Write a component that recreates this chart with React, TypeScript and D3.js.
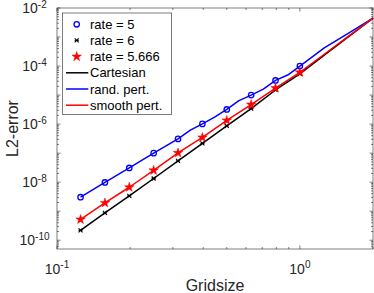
import React from "react";
import * as d3 from "d3";

// Grid sizes of the marker series
const markerH = [0.125, 0.1575, 0.1984, 0.25, 0.315, 0.3969, 0.5, 0.63, 0.7937, 1.0];
const rate5 = [3.04e-9, 9.8e-9, 3.1e-8, 1.0e-7, 3.1e-7, 1.02e-6, 3.2e-6, 1.0e-5, 3.2e-5, 1.0e-4];
const rate6 = [2.2e-10, 8.7e-10, 3.37e-9, 1.34e-8, 5.4e-8, 2.16e-7, 8.7e-7, 3.4e-6, 1.5e-5, 5.4e-5];
const rate5666 = [5.2e-10, 1.93e-9, 6.7e-9, 2.55e-8, 1.02e-7, 3.47e-7, 1.34e-6, 4.7e-6, 1.74e-5, 6.07e-5];

// Line series
const lineH = [0.125, 0.1575, 0.1984, 0.25, 0.315, 0.3969, 0.5, 0.63, 0.7937, 1.0, 1.26, 1.587, 2.0];
const cartesian = [2.2e-10, 8.7e-10, 3.37e-9, 1.34e-8, 5.4e-8, 2.16e-7, 8.7e-7, 3.4e-6, 1.5e-5, 5.4e-5, 2.38e-4, 1.04e-3, 4.5e-3];
const smoothPert = [5.2e-10, 1.93e-9, 6.7e-9, 2.55e-8, 1.02e-7, 3.47e-7, 1.34e-6, 4.7e-6, 1.74e-5, 6.07e-5, 2.55e-4, 1.07e-3, 4.5e-3];
const randH = [0.125, 0.1575, 0.1984, 0.25, 0.315, 0.354, 0.3969, 0.4454, 0.5, 0.5612, 0.63, 0.7071, 0.7937, 0.8909, 1.0, 1.26, 1.587, 2.0];
const randPert = [3.04e-9, 9.8e-9, 3.1e-8, 1.0e-7, 3.1e-7, 6.2e-7, 1.02e-6, 1.74e-6, 3.2e-6, 6.46e-6, 1.0e-5, 1.61e-5, 3.2e-5, 4.9e-5, 1.0e-4, 4.2e-4, 1.37e-3, 4.5e-3];

const yLabelExps = [-10, -8, -6, -4, -2];
const xLabelExps = [-1, 0];
const legendLabels = ["rate = 5", "rate = 6", "rate = 5.666", "Cartesian", "rand. pert.", "smooth pert."];

const W = 374, H = 293;
const L = 57, R = 373, T = 8, B = 249;
const AX = "#262626";
const FONT = "'Liberation Sans', Arial, Helvetica, sans-serif";

function starPath(cx: number, cy: number, ro: number) {
  const ri = ro * 0.382;
  const pts: string[] = [];
  for (let i = 0; i < 10; i++) {
    const r = i % 2 === 0 ? ro : ri;
    const a = -Math.PI / 2 + (i * Math.PI) / 5;
    pts.push(`${cx + r * Math.cos(a)},${cy + r * Math.sin(a)}`);
  }
  return "M" + pts.join("L") + "Z";
}

function asterisk(cx: number, cy: number, r: number, key: any) {
  return (
    <g key={key} stroke="#000" strokeWidth={1.1}>
      <line x1={cx - r} y1={cy - r} x2={cx + r} y2={cy + r} />
      <line x1={cx - r} y1={cy + r} x2={cx + r} y2={cy - r} />
      <line x1={cx - r} y1={cy} x2={cx + r} y2={cy} />
    </g>
  );
}

export default function App() {
  const x = d3.scaleLog().domain([0.1, 2]).range([L, R]);
  const y = d3.scaleLog().domain([5e-11, 1e-2]).range([B, T]);

  const line = (hs: number[], vs: number[]) =>
    d3.line<number>().x((_, i) => x(hs[i])).y((v) => y(v))(vs) || "";

  // ticks
  const yTicks: { v: number; major: boolean }[] = [];
  for (let e = -11; e <= -3; e++) {
    for (let m = 1; m <= 9; m++) {
      const v = m * Math.pow(10, e);
      if (v >= 5e-11 && v <= 1e-2) yTicks.push({ v, major: m === 1 });
    }
  }
  yTicks.push({ v: 1e-2, major: true });
  const xTicks: { v: number; major: boolean }[] = [];
  for (let m = 1; m <= 9; m++) xTicks.push({ v: m * 0.1, major: m === 1 });
  xTicks.push({ v: 1, major: true });
  xTicks.push({ v: 2, major: false });

  const legendRows = [24.3, 40.4, 56.6, 72.8, 89.0, 105.2];

  return (
    <svg width={W} height={H} style={{ position: "absolute", left: 0, top: 0, background: "#fff" }} fontFamily={FONT}>
      <rect x={0} y={0} width={W} height={H} fill="#fff" />
      {/* ticks */}
      <g stroke={AX} strokeWidth={0.6}>
        {yTicks.map((t, i) => {
          const len = t.major ? 3.5 : 2;
          const yy = y(t.v);
          return (
            <g key={"yt" + i}>
              <line x1={L} x2={L + len} y1={yy} y2={yy} />
              <line x1={R} x2={R - len} y1={yy} y2={yy} />
            </g>
          );
        })}
        {xTicks.map((t, i) => {
          const len = t.major ? 3.5 : 2;
          const xx = x(t.v);
          return (
            <g key={"xt" + i}>
              <line x1={xx} x2={xx} y1={B} y2={B - len} />
              <line x1={xx} x2={xx} y1={T} y2={T + len} />
            </g>
          );
        })}
      </g>
      {/* data lines */}
      <g fill="none" strokeWidth={1.5} strokeLinejoin="round">
        <path d={line(lineH, cartesian)} stroke="#000" />
        <path d={line(randH, randPert)} stroke="#0000ff" />
        <path d={line(lineH, smoothPert)} stroke="#ff0000" />
      </g>
      {/* markers */}
      {rate5.map((v, i) => (
        <circle key={"c" + i} cx={x(markerH[i])} cy={y(v)} r={2.7} fill="none" stroke="#0000ff" strokeWidth={1.3} />
      ))}
      {rate6.map((v, i) => asterisk(x(markerH[i]), y(v), 2, "a" + i))}
      {rate5666.map((v, i) => (
        <path key={"s" + i} d={starPath(x(markerH[i]), y(v), 5)} fill="#ff0000" stroke="#ff0000" strokeWidth={0.5} />
      ))}
      {/* box */}
      <rect x={L} y={T} width={R - L} height={B - T} fill="none" stroke={AX} strokeWidth={0.6} />
      {/* y tick labels */}
      {yLabelExps.map((e) => (
        <text key={"yl" + e} x={34.5} y={y(Math.pow(10, e)) + 5} fontSize={14} fill={AX} textAnchor="middle">
          10<tspan fontSize={10} dy={-5}>{"-" + Math.abs(e)}</tspan>
        </text>
      ))}
      {/* x tick labels */}
      {xLabelExps.map((e) => (
        <text key={"xl" + e} x={x(Math.pow(10, e))} y={274} fontSize={14} fill={AX} textAnchor="middle">
          10<tspan fontSize={10} dy={-6}>{e < 0 ? "-" + Math.abs(e) : String(e)}</tspan>
        </text>
      ))}
      {/* axis labels */}
      <text x={(L + R) / 2} y={291} fontSize={16} fill={AX} textAnchor="middle">Gridsize</text>
      <text transform={`translate(17.5,${(T + B) / 2}) rotate(-90)`} fontSize={16} fill={AX} textAnchor="middle">L2-error</text>
      {/* legend */}
      <rect x={62.3} y={13} width={109.4} height={101.3} fill="#fff" stroke={AX} strokeWidth={0.6} />
      <circle cx={76.7} cy={legendRows[0]} r={2.7} fill="none" stroke="#0000ff" strokeWidth={1.3} />
      {asterisk(76.7, legendRows[1], 2, "la")}
      <path d={starPath(76.7, legendRows[2], 5)} fill="#ff0000" stroke="#ff0000" strokeWidth={0.5} />
      <line x1={66} x2={88.3} y1={legendRows[3]} y2={legendRows[3]} stroke="#000" strokeWidth={1.5} />
      <line x1={66} x2={88.3} y1={legendRows[4]} y2={legendRows[4]} stroke="#0000ff" strokeWidth={1.5} />
      <line x1={66} x2={88.3} y1={legendRows[5]} y2={legendRows[5]} stroke="#ff0000" strokeWidth={1.5} />
      {legendLabels.map((s, i) => (
        <text key={"lg" + i} x={90} y={legendRows[i] + 4.6} fontSize={13} fill="#000">{s}</text>
      ))}
    </svg>
  );
}
